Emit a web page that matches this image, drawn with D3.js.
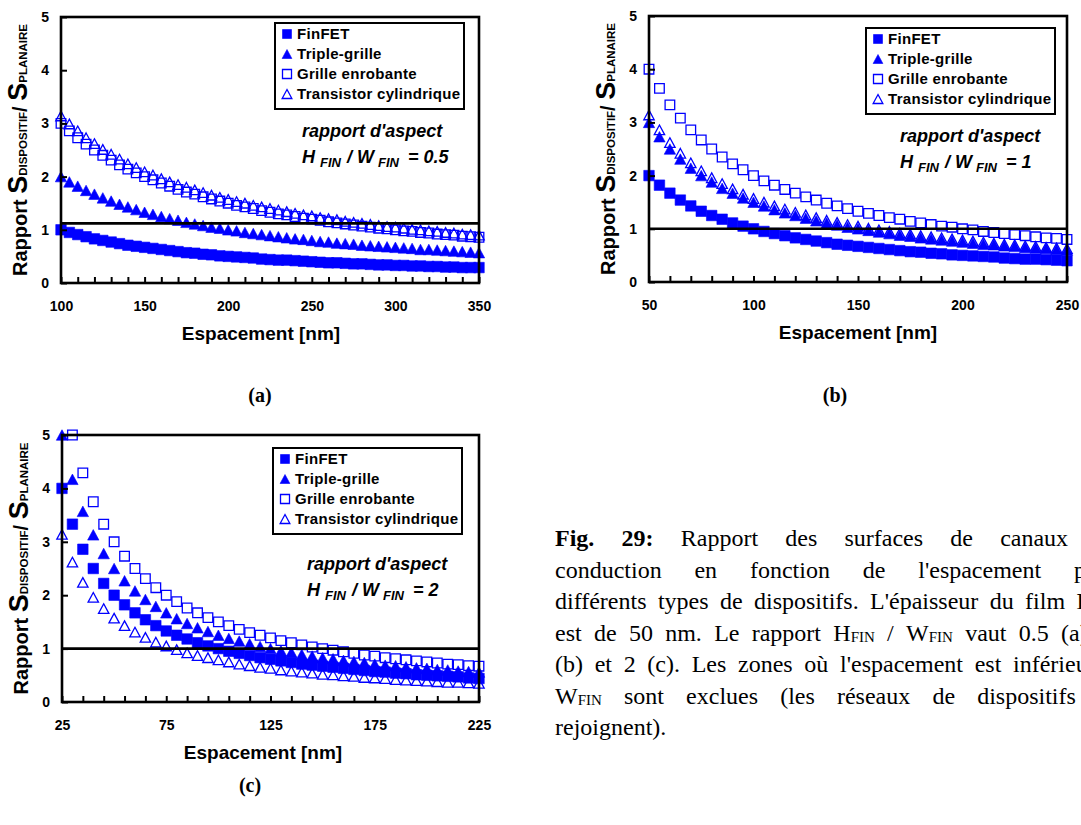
<!DOCTYPE html>
<html>
<head>
<meta charset="utf-8">
<script src="https://cdn.jsdelivr.net/npm/d3@7"></script>
<style type="text/css">
html, body{
	padding: 0;
	margin: 0;
	background: white;
}
svg text{
	font-family: "Liberation Sans", Arial, sans-serif;
}
</style>
</head>
<body>
<svg width=1081 height=825></svg>

<script type="text/javascript">
// spacing values (nm) and surface ratios
const spacingA = [100,105,110,115,120,125,130,135,140,145,150,155,160,165,170,175,180,185,190,195,200,205,210,215,220,225,230,235,240,245,250,255,260,265,270,275,280,285,290,295,300,305,310,315,320,325,330,335,340,345,350];
const finfetA = [1.00,0.95,0.91,0.87,0.83,0.80,0.77,0.74,0.71,0.69,0.67,0.65,0.63,0.61,0.59,0.57,0.56,0.54,0.53,0.51,0.50,0.49,0.48,0.47,0.45,0.44,0.43,0.43,0.42,0.41,0.40,0.39,0.38,0.38,0.37,0.36,0.36,0.35,0.34,0.34,0.33,0.33,0.32,0.32,0.31,0.31,0.30,0.30,0.29,0.29,0.29];
const tripleA = [2.00,1.90,1.82,1.74,1.67,1.60,1.54,1.48,1.43,1.38,1.33,1.29,1.25,1.21,1.18,1.14,1.11,1.08,1.05,1.03,1.00,0.98,0.95,0.93,0.91,0.89,0.87,0.85,0.83,0.82,0.80,0.78,0.77,0.75,0.74,0.73,0.71,0.70,0.69,0.68,0.67,0.66,0.65,0.63,0.63,0.62,0.61,0.60,0.59,0.58,0.57];
const gaaA = [3.00,2.86,2.73,2.61,2.50,2.40,2.31,2.22,2.14,2.07,2.00,1.94,1.88,1.82,1.76,1.71,1.67,1.62,1.58,1.54,1.50,1.46,1.43,1.40,1.36,1.33,1.30,1.28,1.25,1.22,1.20,1.18,1.15,1.13,1.11,1.09,1.07,1.05,1.03,1.02,1.00,0.98,0.97,0.95,0.94,0.92,0.91,0.90,0.88,0.87,0.86];
const cylA = [3.14,2.99,2.86,2.73,2.62,2.51,2.42,2.33,2.24,2.17,2.09,2.03,1.96,1.90,1.85,1.80,1.75,1.70,1.65,1.61,1.57,1.53,1.50,1.46,1.43,1.40,1.37,1.34,1.31,1.28,1.26,1.23,1.21,1.19,1.16,1.14,1.12,1.10,1.08,1.06,1.05,1.03,1.01,1.00,0.98,0.97,0.95,0.94,0.92,0.91,0.90];

const spacingB = [50,55,60,65,70,75,80,85,90,95,100,105,110,115,120,125,130,135,140,145,150,155,160,165,170,175,180,185,190,195,200,205,210,215,220,225,230,235,240,245,250];
const finfetB = [2.00,1.82,1.67,1.54,1.43,1.33,1.25,1.18,1.11,1.05,1.00,0.95,0.91,0.87,0.83,0.80,0.77,0.74,0.71,0.69,0.67,0.65,0.63,0.61,0.59,0.57,0.56,0.54,0.53,0.51,0.50,0.49,0.48,0.47,0.45,0.44,0.43,0.43,0.42,0.41,0.40];
const tripleB = [3.00,2.73,2.50,2.31,2.14,2.00,1.88,1.76,1.67,1.58,1.50,1.43,1.36,1.30,1.25,1.20,1.15,1.11,1.07,1.03,1.00,0.97,0.94,0.91,0.88,0.86,0.83,0.81,0.79,0.77,0.75,0.73,0.71,0.70,0.68,0.67,0.65,0.64,0.63,0.61,0.60];
const gaaB = [4.00,3.64,3.33,3.08,2.86,2.67,2.50,2.35,2.22,2.11,2.00,1.90,1.82,1.74,1.67,1.60,1.54,1.48,1.43,1.38,1.33,1.29,1.25,1.21,1.18,1.14,1.11,1.08,1.05,1.03,1.00,0.98,0.95,0.93,0.91,0.89,0.87,0.85,0.83,0.82,0.80];
const cylB = [3.14,2.86,2.62,2.42,2.24,2.09,1.96,1.85,1.75,1.65,1.57,1.50,1.43,1.37,1.31,1.26,1.21,1.16,1.12,1.08,1.05,1.01,0.98,0.95,0.92,0.90,0.87,0.85,0.83,0.81,0.79,0.77,0.75,0.73,0.71,0.70,0.68,0.67,0.65,0.64,0.63];

const spacingC = [25,30,35,40,45,50,55,60,65,70,75,80,85,90,95,100,105,110,115,120,125,130,135,140,145,150,155,160,165,170,175,180,185,190,195,200,205,210,215,220,225];
const finfetC = [4.00,3.33,2.86,2.50,2.22,2.00,1.82,1.67,1.54,1.43,1.33,1.25,1.18,1.11,1.05,1.00,0.95,0.91,0.87,0.83,0.80,0.77,0.74,0.71,0.69,0.67,0.65,0.63,0.61,0.59,0.57,0.56,0.54,0.53,0.51,0.50,0.49,0.48,0.47,0.45,0.44];
const tripleC = [5.00,4.17,3.57,3.13,2.78,2.50,2.27,2.08,1.92,1.79,1.67,1.56,1.47,1.39,1.32,1.25,1.19,1.14,1.09,1.04,1.00,0.96,0.93,0.89,0.86,0.83,0.81,0.78,0.76,0.74,0.71,0.69,0.68,0.66,0.64,0.63,0.61,0.60,0.58,0.57,0.56];
const gaaC = [6.00,5.00,4.29,3.75,3.33,3.00,2.73,2.50,2.31,2.14,2.00,1.88,1.76,1.67,1.58,1.50,1.43,1.36,1.30,1.25,1.20,1.15,1.11,1.07,1.03,1.00,0.97,0.94,0.91,0.88,0.86,0.83,0.81,0.79,0.77,0.75,0.73,0.71,0.70,0.68,0.67];
const cylC = [3.14,2.62,2.24,1.96,1.75,1.57,1.43,1.31,1.21,1.12,1.05,0.98,0.92,0.87,0.83,0.79,0.75,0.71,0.68,0.65,0.63,0.60,0.58,0.56,0.54,0.52,0.51,0.49,0.48,0.46,0.45,0.44,0.42,0.41,0.40,0.39,0.38,0.37,0.37,0.36,0.35];

const seriesNames = ["FinFET","Triple-grille","Grille enrobante","Transistor cylindrique"];
const yTicks = [0,1,2,3,4,5];
const xLabelsA = [100,150,200,250,300,350];
const xLabelsB = [50,100,150,200,250];
const xLabelsC = [25,75,125,175,225];
const aspectValues = ["0.5","1","2"];
const refLevels = [1.12,1,1];
const panelLetters = ["(a)","(b)","(c)"];

const captionLines = [
	"*Fig. *29: Rapport des surfaces de canaux de",
	"conduction en fonction de l'espacement pour",
	"différents types de dispositifs. L'épaisseur du film H_FIN",
	"est de 50 nm. Le rapport H_FIN / W_FIN vaut 0.5 (a), 1",
	"(b) et 2 (c). Les zones où l'espacement est inférieur à",
	"W_FIN sont exclues (les réseaux de dispositifs se",
	"rejoignent)."
];

// layout of the three panels
const panels = [
	{box:[61,17,479,283], xd:[100,350], xs:spacingA, ys:[finfetA,tripleA,gaaA,cylA], xl:xLabelsA, leg:[275,23], ann:[302,137], titleX:261, lab:[260,402]},
	{box:[649,16,1067,282], xd:[50,250], xs:spacingB, ys:[finfetB,tripleB,gaaB,cylB], xl:xLabelsB, leg:[866,28], ann:[900,142], titleX:858, lab:[835,402]},
	{box:[62,435,479,702], xd:[25,225], xs:spacingC, ys:[finfetC,tripleC,gaaC,cylC], xl:xLabelsC, leg:[273,448], ann:[307,570], titleX:263, lab:[250,792]}
];

const blue = "#0000ff";
const markers = [
	{kind:"square", filled:true},
	{kind:"triangle", filled:true},
	{kind:"square", filled:false},
	{kind:"triangle", filled:false}
];
function markerPath(kind, s){
	const h = s/2;
	if(kind=="square") return "M"+(-h)+","+(-h)+"H"+h+"V"+h+"H"+(-h)+"Z";
	return "M0,"+(-h)+"L"+(h*1.08)+","+h+"L"+(-h*1.08)+","+h+"Z";
}
function styleMarker(sel, m){
	sel.attr("fill", m.filled ? blue : "none")
		.attr("stroke", blue)
		.attr("stroke-width", m.filled ? 0.6 : 1.3);
}

const svg = d3.select("svg");

panels.forEach((p,pi)=>{
	const [x0,y0,x1,y1] = p.box;
	const x = d3.scaleLinear().domain(p.xd).range([x0,x1]);
	const y = d3.scaleLinear().domain([0,5]).range([y1,y0]);
	const g = svg.append("g");

	// series
	p.ys.forEach((vals,i)=>{
		const m = markers[i];
		const pts = p.xs.map((d,k)=>({x:d,y:vals[k]})).filter(d=>d.y<=5);
		g.append("g").selectAll("path")
			.data(pts)
			.enter()
			.append("path")
			.attr("transform",d=>"translate("+x(d.x)+","+y(d.y)+")")
			.attr("d", markerPath(m.kind, m.filled ? 10.5 : 9.6))
			.call(styleMarker, m);
	});

	// reference line
	g.append("line")
		.attr("x1",x0).attr("x2",x1)
		.attr("y1",y(refLevels[pi])).attr("y2",y(refLevels[pi]))
		.attr("stroke","black").attr("stroke-width",2.6);

	// axes
	const xAxis = d3.axisBottom(x)
		.tickValues(d3.range(p.xd[0], p.xd[1]+1, 10))
		.tickSizeInner(-6).tickSizeOuter(0).tickPadding(18)
		.tickFormat(d=>p.xl.indexOf(d)>=0 ? d : "");
	const gx = g.append("g").attr("transform","translate(0,"+y1+")").call(xAxis);
	const yAxis = d3.axisLeft(y)
		.tickValues(yTicks)
		.tickFormat(d3.format("d"))
		.tickSizeInner(-6).tickSizeOuter(0).tickPadding(12);
	const gy = g.append("g").attr("transform","translate("+x0+",0)").call(yAxis);
	[gx,gy].forEach(a=>{
		a.select(".domain").remove();
		a.selectAll(".tick line").attr("stroke","black").attr("stroke-width",2);
		a.selectAll(".tick text")
			.attr("fill","black")
			.style("font-family","'Liberation Sans', Arial, sans-serif")
			.style("font-size","14px")
			.style("font-weight","bold");
	});

	// plot frame
	g.append("rect")
		.attr("x",x0).attr("y",y0)
		.attr("width",x1-x0).attr("height",y1-y0)
		.attr("fill","none").attr("stroke","black").attr("stroke-width",2.6);

	// axis titles
	g.append("text")
		.attr("x",p.titleX).attr("y",y1+57)
		.attr("text-anchor","middle")
		.style("font-size","19px").style("font-weight","bold")
		.text("Espacement [nm]");

	const yt = g.append("text")
		.attr("transform","translate("+(x0-34)+","+((y0+y1)/2)+") rotate(-90)")
		.attr("text-anchor","middle")
		.style("font-weight","bold");
	yt.append("tspan").style("font-size","20px").text("Rapport ");
	yt.append("tspan").style("font-size","27px").text("S");
	yt.append("tspan").style("font-size","11.5px").text("DISPOSITIF");
	yt.append("tspan").style("font-size","20px").text("/ ");
	yt.append("tspan").style("font-size","27px").text("S");
	yt.append("tspan").style("font-size","11.5px").text("PLANAIRE");

	// legend
	const lg = g.append("g").attr("transform","translate("+p.leg[0]+","+p.leg[1]+")");
	lg.append("rect").attr("width",189).attr("height",86)
		.attr("fill","white").attr("stroke","black").attr("stroke-width",2);
	seriesNames.forEach((name,i)=>{
		const cy = 11 + i*20;
		lg.append("path")
			.attr("transform","translate(12,"+cy+")")
			.attr("d", markerPath(markers[i].kind, 9))
			.call(styleMarker, markers[i]);
		lg.append("text")
			.attr("x",22).attr("y",cy).attr("dy","0.36em")
			.style("font-size","15px").style("font-weight","bold")
			.style("letter-spacing","0.3px")
			.text(name);
	});

	// aspect ratio note
	const an = g.append("g")
		.style("font-size","18px").style("font-weight","bold").style("font-style","italic");
	an.append("text").attr("x",p.ann[0]).attr("y",p.ann[1]).text("rapport d'aspect");
	const t2 = an.append("text").attr("x",p.ann[0]).attr("y",p.ann[1]+26);
	t2.append("tspan").text("H");
	t2.append("tspan").style("font-size","13px").attr("dx",5).attr("dy",4).text("FIN");
	t2.append("tspan").attr("dx",6).attr("dy",-4).text("/");
	t2.append("tspan").attr("dx",5).text("W");
	t2.append("tspan").style("font-size","13px").attr("dx",4).attr("dy",4).text("FIN");
	t2.append("tspan").attr("dx",9).attr("dy",-4).text("=");
	t2.append("tspan").attr("dx",5).text(aspectValues[pi]);

	// panel letter
	g.append("text")
		.attr("x",p.lab[0]).attr("y",p.lab[1])
		.attr("text-anchor","middle")
		.style("font-family","'Liberation Serif', serif")
		.style("font-size","20px").style("font-weight","bold")
		.text(panelLetters[pi]);
});

// caption, justified line by line
const capX0 = 555, capX1 = 1118, capY0 = 546, capLH = 31.5;
const cap = svg.append("g")
	.style("font-family","'Liberation Serif', serif")
	.style("font-size","24px");
captionLines.forEach((line,li)=>{
	const words = line.split(" ");
	const nodes = words.map(w=>{
		const t = cap.append("text").attr("y", capY0 + li*capLH).style("font-family","'Liberation Serif', serif");
		const bold = w[0]=="*";
		if(bold) w = w.slice(1);
		const parts = w.split("_");
		t.append("tspan").style("font-weight", bold ? "bold" : "normal").text(parts[0]);
		if(parts[1]) t.append("tspan").style("font-size","15px").attr("dy",1).text(parts[1]);
		return t;
	});
	const widths = nodes.map(t=>t.node().getComputedTextLength());
	const last = li == captionLines.length-1;
	const gap = last ? 6 : (capX1 - capX0 - d3.sum(widths))/(words.length-1);
	let cx = capX0;
	nodes.forEach((t,k)=>{ t.attr("x",cx); cx += widths[k] + gap; });
});
</script>
</body>
</html>
